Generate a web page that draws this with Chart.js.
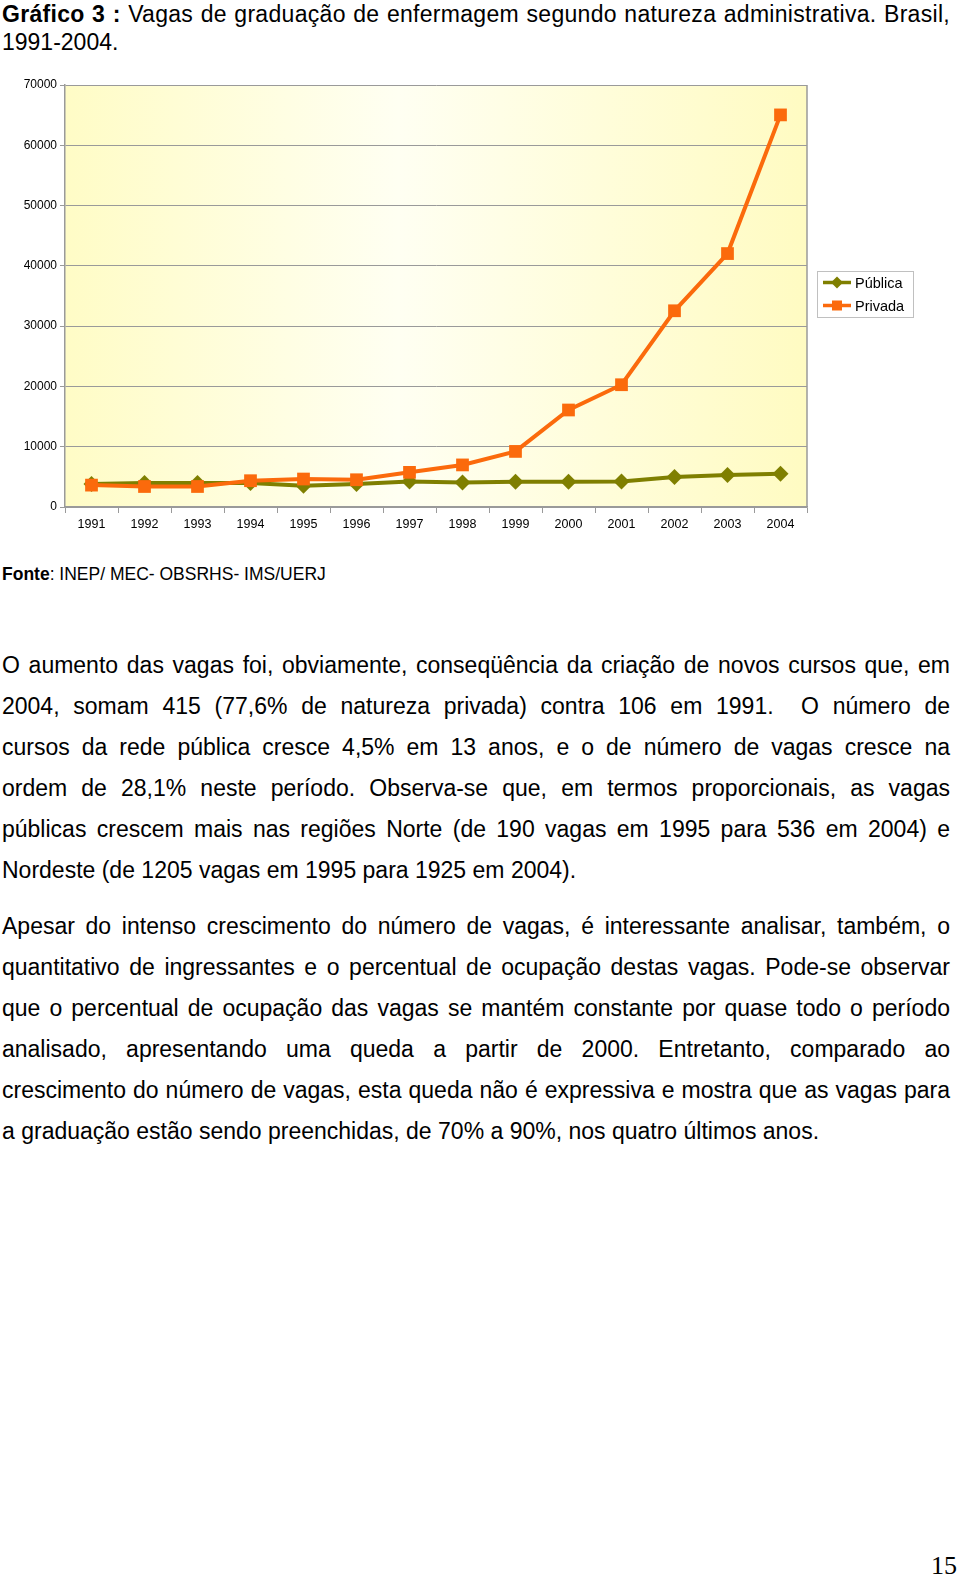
<!DOCTYPE html>
<html>
<head>
<meta charset="utf-8">
<script src="https://cdn.jsdelivr.net/npm/chart.js@4.4.0/dist/chart.umd.min.js"></script>
<style>
    body { margin: 0; background: #fff; width: 960px; height: 1578px; position: relative; overflow: hidden; font-family: "Liberation Sans", Arial, sans-serif; color: #000; }
    .title { position: absolute; left: 2px; top: 0; width: 948px; font-size: 23px; line-height: 28px; }
    .title .ln { display: block; white-space: nowrap; letter-spacing: 0.3px; text-align: justify; text-align-last: justify; }
    .chart-box { position: absolute; left: 0; top: 70px; width: 960px; height: 470px; }
    .fonte { position: absolute; left: 2px; top: 564px; font-size: 17.5px; }
    .texto { position: absolute; left: 2px; top: 645px; width: 948px; font-size: 23px; line-height: 41px; text-align: justify; }
    .texto p { margin: 0 0 15px 0; }
    .texto .ln { display: block; text-align: justify; text-align-last: justify; }
    .texto .fim { display: block; text-align: left; text-align-last: left; }
    .pagina { position: absolute; left: 931px; top: 1554px; font-family: "Liberation Serif", "DejaVu Serif", serif; font-size: 26px; line-height: 24px; }
</style>
</head>
<body>
<div class="title">
    <span class="ln"><b>Gráfico 3 :</b> Vagas de graduação de enfermagem segundo natureza administrativa. Brasil,</span>
    <span style="display:block">1991-2004.</span>
</div>
<div class="chart-box"><canvas id="vagasChart" width="960" height="470"></canvas></div>
<div class="fonte"><b>Fonte</b>: INEP/ MEC- OBSRHS- IMS/UERJ</div>
<div class="texto">
    <p>
        <span class="ln">O aumento das vagas foi, obviamente, conseqüência da criação de novos cursos que, em</span>
        <span class="ln">2004, somam 415 (77,6% de natureza privada) contra 106 em 1991. &nbsp;O número de</span>
        <span class="ln">cursos da rede pública cresce 4,5% em 13 anos, e o de número de vagas cresce na</span>
        <span class="ln">ordem de 28,1% neste período. Observa-se que, em termos proporcionais, as vagas</span>
        <span class="ln">públicas crescem mais nas regiões Norte (de 190 vagas em 1995 para 536 em 2004) e</span>
        <span class="fim">Nordeste (de 1205 vagas em 1995 para 1925 em 2004).</span>
    </p>
    <p>Apesar do intenso crescimento do número de vagas, é interessante analisar, também, o quantitativo de ingressantes e o percentual de ocupação destas vagas. Pode-se observar que o percentual de ocupação das vagas se mantém constante por quase todo o período analisado, apresentando uma queda a partir de 2000. Entretanto, comparado ao crescimento do número de vagas, esta queda não é expressiva e mostra que as vagas para a graduação estão sendo preenchidas, de 70% a 90%, nos quatro últimos anos.</p>
</div>
<div class="pagina">15</div>

<script>
// Dados
const anos = ['1991', '1992', '1993', '1994', '1995', '1996', '1997', '1998', '1999', '2000', '2001', '2002', '2003', '2004'];
const publica = [3800, 3970, 3970, 3970, 3520, 3800, 4250, 4080, 4190, 4190, 4250, 4970, 5300, 5530];
const privada = [3630, 3400, 3400, 4360, 4640, 4520, 5750, 6980, 9220, 16090, 20280, 32550, 42040, 65040];
const yTicks = [0, 10000, 20000, 30000, 40000, 50000, 60000, 70000];

const VERDE = '#7f7f00';
const LARANJA = '#fb6a0c';
const CINZA = '#9a9a9a';
const FONTE = '"Liberation Sans", Arial, sans-serif';

// fundo amarelo da área do gráfico
const plotBackground = {
    id: 'plotBackground',
    beforeDraw(chart) {
        const { ctx, chartArea: a } = chart;
        const g = ctx.createLinearGradient(a.left, 0, a.right, 0);
        g.addColorStop(0, '#fffcc6');
        g.addColorStop(0.45, '#fffff2');
        g.addColorStop(1, '#fffbc2');
        ctx.save();
        ctx.fillStyle = g;
        ctx.fillRect(a.left, a.top, a.right - a.left, a.bottom - a.top);
        ctx.restore();
    },
    afterDatasetsDraw(chart) {
        // borda direita
        const { ctx, chartArea: a } = chart;
        ctx.save();
        ctx.strokeStyle = CINZA;
        ctx.lineWidth = 1.5;
        ctx.beginPath();
        ctx.moveTo(a.right, a.top);
        ctx.lineTo(a.right, a.bottom);
        ctx.stroke();
        ctx.restore();
    }
};

// legenda com linha + marcador, como no original
const boxLegend = {
    id: 'boxLegend',
    afterDraw(chart) {
        const { ctx, chartArea: a } = chart;
        const items = chart.data.datasets;
        const w = 96, rowH = 23, h = items.length * rowH;
        const x = a.right + 10;
        const y = (a.top + a.bottom) / 2 - h / 2 - 2;
        ctx.save();
        ctx.strokeStyle = '#c0c0c0';
        ctx.lineWidth = 1;
        ctx.strokeRect(x + 0.5, y + 0.5, w, h);
        ctx.font = '14.5px ' + FONTE;
        ctx.textBaseline = 'middle';
        items.forEach((ds, i) => {
            const cy = y + rowH / 2 + i * rowH;
            ctx.strokeStyle = ds.borderColor;
            ctx.lineWidth = 3.5;
            ctx.beginPath();
            ctx.moveTo(x + 6, cy);
            ctx.lineTo(x + 34, cy);
            ctx.stroke();
            ctx.fillStyle = ds.backgroundColor;
            ctx.beginPath();
            if (ds.pointStyle === 'rectRot') {
                ctx.moveTo(x + 20, cy - 6);
                ctx.lineTo(x + 26, cy);
                ctx.lineTo(x + 20, cy + 6);
                ctx.lineTo(x + 14, cy);
                ctx.closePath();
            } else {
                ctx.rect(x + 15, cy - 5, 10, 10);
            }
            ctx.fill();
            ctx.fillStyle = '#000';
            ctx.fillText(ds.label, x + 38, cy + 1);
        });
        ctx.restore();
    }
};

const ctx = document.getElementById('vagasChart').getContext('2d');
const chart = new Chart(ctx, {
    type: 'line',
    data: {
        labels: anos,
        datasets: [{
            label: 'Pública',
            data: publica,
            borderColor: VERDE,
            backgroundColor: VERDE,
            borderWidth: 4,
            pointStyle: 'rectRot',
            pointRadius: 8,
            pointBorderWidth: 0,
            tension: 0,
            order: 1
        }, {
            label: 'Privada',
            data: privada,
            borderColor: LARANJA,
            backgroundColor: LARANJA,
            borderWidth: 4,
            pointStyle: 'rect',
            pointRadius: 9,
            pointBorderWidth: 0,
            tension: 0,
            order: 0
        }]
    },
    options: {
        responsive: false,
        animation: false,
        layout: { padding: { top: 15, right: 153, left: 0, bottom: 0 } },
        plugins: {
            legend: { display: false },
            tooltip: { enabled: false }
        },
        scales: {
            x: {
                offset: true,
                grid: { drawOnChartArea: false, drawTicks: true, tickLength: 6, color: CINZA, offset: true },
                border: { display: true, color: CINZA, width: 1.5 },
                ticks: { color: '#000', font: { family: FONTE, size: 12.5 }, padding: 4, maxRotation: 0 },
                afterFit(scale) { scale.height = 33; }
            },
            y: {
                min: 0,
                max: 70000,
                afterBuildTicks(scale) { scale.ticks = yTicks.map(v => ({ value: v })); },
                grid: { color: CINZA, lineWidth: 1, tickLength: 5 },
                border: { display: true, color: CINZA, width: 1.5 },
                ticks: { color: '#000', font: { family: FONTE, size: 12 }, padding: 3, callback: v => String(v) },
                afterFit(scale) { scale.width = 65; }
            }
        }
    },
    plugins: [plotBackground, boxLegend]
});
</script>
</body>
</html>
